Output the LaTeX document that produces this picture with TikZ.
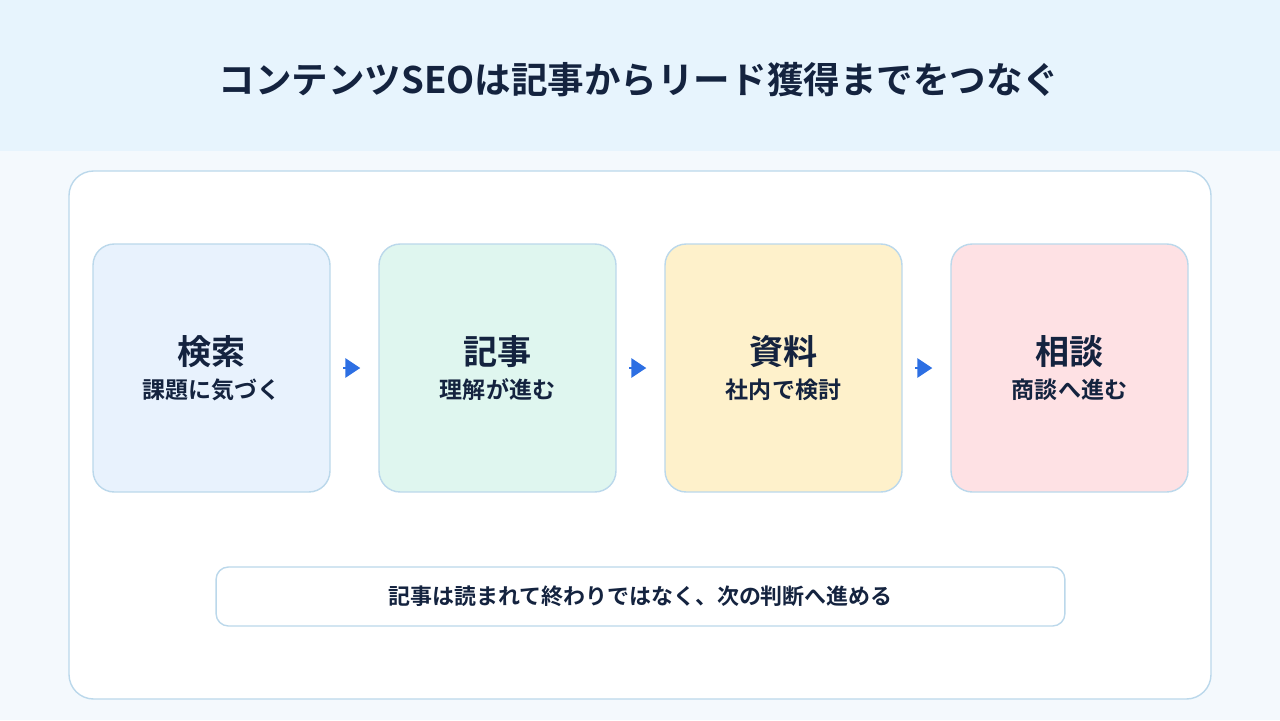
\documentclass[tikz,border=0pt]{standalone}
\usepackage{fontspec}
\setmainfont{Noto Sans CJK JP}[BoldFont={Noto Sans CJK JP Bold}]
\usetikzlibrary{arrows.meta}
\definecolor{ink}{HTML}{14233F}
\definecolor{edge}{HTML}{BBD8EB}
\definecolor{headbg}{HTML}{E7F4FD}
\definecolor{pagebg}{HTML}{F4F9FD}
\definecolor{flowblue}{HTML}{2D6FE3}
\definecolor{fillblue}{HTML}{E8F2FD}
\definecolor{fillgreen}{HTML}{DFF6EF}
\definecolor{fillyellow}{HTML}{FEF1CB}
\definecolor{fillpink}{HTML}{FEE1E4}

\begin{document}
\begin{tikzpicture}[x=0.02cm,y=-0.02cm,
  every node/.style={text=ink,font=\bfseries},
  stage/.style={draw=edge,line width=0.8pt,rounded corners=12pt,
    minimum width=4.74cm,minimum height=4.96cm,inner sep=0pt},
  stagehead/.style={font=\fontsize{19.4}{23}\bfseries\selectfont},
  stagesub/.style={font=\fontsize{13.1}{16}\bfseries\selectfont},
  flow/.style={flowblue,line width=1.6pt,shorten <=0.25cm,shorten >=0.36cm,
    -{Triangle[length=0.3cm,width=0.38cm]}}]
  \useasboundingbox (0,0) rectangle (1280,720);
  \fill[pagebg] (0,0) rectangle (1280,720);
  \fill[headbg] (0,0) rectangle (1280,151);
  \node[font=\fontsize{20.8}{25}\bfseries\selectfont] (title) at (639,80)
    {コンテンツSEOは記事からリード獲得までをつなぐ};
  \draw[edge,fill=white,line width=0.8pt,rounded corners=14pt] (69,171) rectangle (1211,699);
  % stages
  \node[stage,fill=fillblue] (search) at (211.5,368) {};
  \node[stage,fill=fillgreen] (article) at (497.5,368) {};
  \node[stage,fill=fillyellow] (docs) at (783.5,368) {};
  \node[stage,fill=fillpink] (talk) at (1069.5,368) {};
  \node[stagehead] at (211.5,352) {検索};
  \node[stagesub] at (211.5,390) {課題に気づく};
  \node[stagehead] at (497.5,352) {記事};
  \node[stagesub] at (497.5,390) {理解が進む};
  \node[stagehead] at (783.5,352) {資料};
  \node[stagesub] at (783.5,390) {社内で検討};
  \node[stagehead] at (1069.5,352) {相談};
  \node[stagesub] at (1069.5,390) {商談へ進む};
  \foreach \from/\to in {search/article,article/docs,docs/talk}
    \draw[flow] (\from) -- (\to);
  % note
  \node[draw=edge,fill=white,line width=0.8pt,rounded corners=7pt,
    minimum width=16.98cm,minimum height=1.18cm,
    font=\fontsize{12.5}{15}\bfseries\selectfont] (note) at (640.5,596.5)
    {記事は読まれて終わりではなく、次の判断へ進める};
\end{tikzpicture}
\end{document}
